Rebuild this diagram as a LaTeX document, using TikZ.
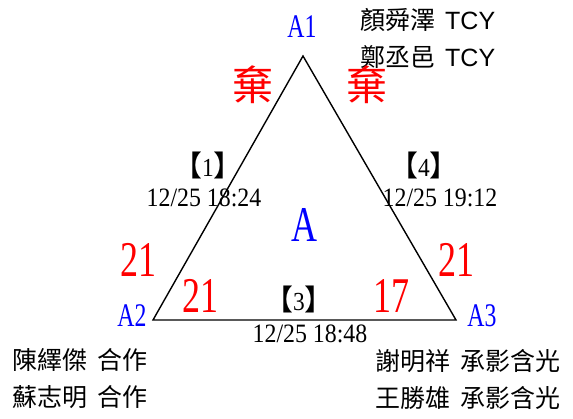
\documentclass[tikz,border=0pt]{standalone}
\usepackage{fontspec}
\setmainfont{Liberation Serif}
\newfontfamily\cjk{Noto Sans CJK TC}
\newfontfamily\arial{Liberation Sans}
\newfontfamily\narrow[FakeStretch=0.72]{Liberation Serif}
\newfontfamily\datefont[FakeStretch=0.9]{Liberation Serif}
\usetikzlibrary{positioning}
\newcommand{\fs}[1]{\fontsize{#1}{#1}\selectfont}
\newcommand{\rnd}[1]{{\cjk\fs{29}【}#1{\cjk\fs{29}】}}
\newcommand{\gap}{\hspace{0.4em}}

\begin{document}
\begin{tikzpicture}[x=1pt,y=-1pt,
  vlabel/.style={text=blue,font=\narrow\fs{33},inner sep=0pt},
  score/.style={text=red,font=\narrow\fs{50},inner sep=0pt},
  stamp/.style={font=\datefont\fs{26.5},inner sep=0pt},
  round/.style={font=\datefont\fs{26},inner sep=0pt},
  player/.style={font=\cjk\fs{25},inner sep=0pt,anchor=west},
  forfeit/.style={text=red,font=\cjk\fs{41},inner sep=0pt}]
\useasboundingbox (0,0) rectangle (573,419);
% triangle
\coordinate (A1) at (303,56);
\coordinate (A2) at (153,320);
\coordinate (A3) at (456,320);
\draw[line width=1.4pt] (A1) -- (A2) -- (A3) -- cycle;
% corners
\node[vlabel] (lA1) at (302,27) {A1};
\node[vlabel] (lA2) at (132,316) {A2};
\node[vlabel] (lA3) at (482,316) {A3};
\node[vlabel,font=\narrow\fs{50}] (grp) at (304,225) {A};
% players
\node[player] (p1a) at (360,20) {顏舜澤\gap{\arial TCY}};
\node[player] (p1b) at (360,57) {鄭丞邑\gap{\arial TCY}};
\node[player] (p2a) at (12,360) {陳繹傑\gap 合作};
\node[player] (p2b) at (12,397) {蘇志明\gap 合作};
\node[player] (p3a) at (375,361) {謝明祥\gap 承影含光};
\node[player] (p3b) at (375,398) {王勝雄\gap 承影含光};
% forfeits
\node[forfeit] (f1l) at (253,85) {棄};
\node[forfeit] (f1r) at (367,85) {棄};
% scores
\node[score] (s2o) at (138,260) {21};
\node[score] (s2i) at (200,296) {21};
\node[score] (s3i) at (391,296) {17};
\node[score] (s3o) at (456,260) {21};
% games
\node[round] (r1) at (208,165) {\rnd{1}};
\node[stamp] (t1) at (204,198) {12/25 18:24};
\node[round] (r4) at (424,165) {\rnd{4}};
\node[stamp] (t4) at (440,198) {12/25 19:12};
\node[round] (r3) at (299,299) {\rnd{3}};
\node[stamp] (t3) at (310,334) {12/25 18:48};
\end{tikzpicture}
\end{document}
